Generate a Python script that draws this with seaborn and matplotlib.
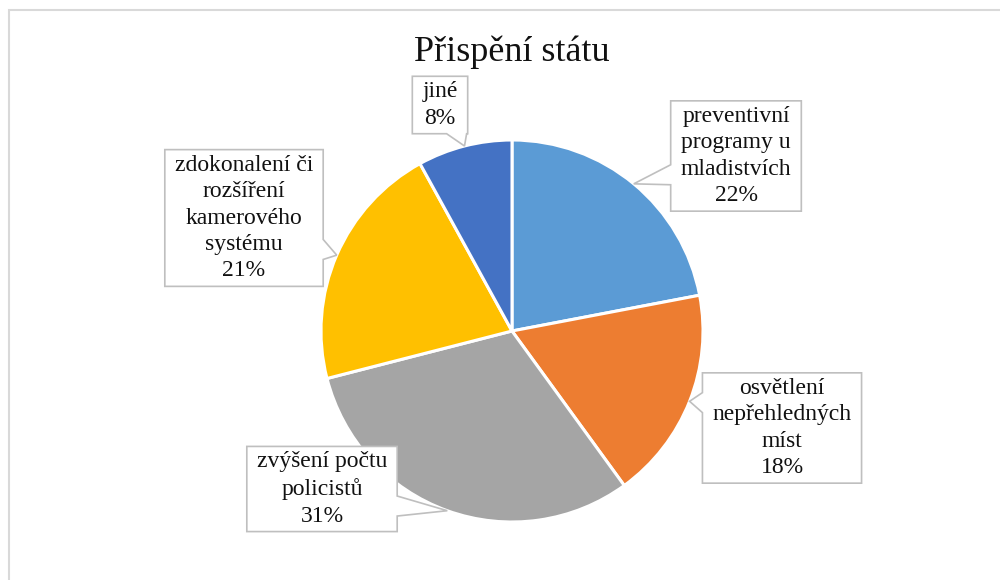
import numpy as np
import matplotlib.pyplot as plt
import seaborn as sns
from matplotlib.patches import Rectangle, Polygon
from matplotlib.transforms import IdentityTransform

# data
kategorie = ["preventivní\nprogramy u\nmladistvích",
             "osvětlení\nnepřehledných\nmíst",
             "zvýšení počtu\npolicistů",
             "zdokonalení či\nrozšíření\nkamerového\nsystému",
             "jiné"]
podily = [22, 18, 31, 21, 8]
barvy = ["#5B9BD5", "#ED7D31", "#A5A5A5", "#FFC000", "#4472C4"]
titulek = "Přispění státu"

# rozložení (pixely na obrázku 1000x580)
stred = (512, 331)
polomer = 191
popisky_px = [(736, 156), (782, 428), (322, 489), (244, 218), (440, 105)]
# strana rámečku, ze které vychází špička, a poloha na ní (0..1)
spicky = [("left", 0.33), ("left", 0.73), ("right", 0.3), ("right", 0.27), ("bottom", 0.8)]

sns.set_theme(style="white")
plt.rcParams["font.family"] = ["Liberation Serif", "DejaVu Serif"]

fig = plt.figure(figsize=(10, 5.8), dpi=100)
ax = fig.add_axes([0, 0, 1, 1])

wedges, _ = ax.pie(podily, colors=barvy, startangle=90, counterclock=False,
                   wedgeprops=dict(edgecolor="white", linewidth=2.2))

ax.set_xlim(-stred[0] / polomer, (1000 - stred[0]) / polomer)
ax.set_ylim(-(580 - stred[1]) / polomer, stred[1] / polomer)
ax.set_aspect("equal", adjustable="datalim")
ax.axis("off")

texty = []
for jmeno, hodnota, (px, py) in zip(kategorie, podily, popisky_px):
    tx = (px - stred[0]) / polomer
    ty = (stred[1] - py) / polomer
    t = ax.text(tx, ty, f"{jmeno}\n{hodnota}%", ha="center", va="center",
                multialignment="center", fontsize=17, linespacing=1.34,
                color="#111111", zorder=5)
    texty.append(t)

fig.canvas.draw()
renderer = fig.canvas.get_renderer()

pad_x, pad_y, pul = 10, 5, 10
for w, t, (strana, f) in zip(wedges, texty, spicky):
    bb = t.get_window_extent(renderer)
    x0, x1 = bb.x0 - pad_x, bb.x1 + pad_x
    y0, y1 = bb.y0 - pad_y, bb.y1 + pad_y
    uhel = np.deg2rad((w.theta1 + w.theta2) / 2)
    hrot = ax.transData.transform((np.cos(uhel), np.sin(uhel)))
    if strana == "left":
        yc = y0 + f * (y1 - y0)
        body = [(x0, y0), (x1, y0), (x1, y1), (x0, y1), (x0, yc + pul), hrot, (x0, yc - pul)]
    elif strana == "right":
        yc = y0 + f * (y1 - y0)
        body = [(x0, y0), (x1, y0), (x1, yc - pul), hrot, (x1, yc + pul), (x1, y1), (x0, y1)]
    else:
        xc = x0 + f * (x1 - x0)
        body = [(x0, y0), (xc - pul, y0), hrot, (xc + pul, y0), (x1, y0), (x1, y1), (x0, y1)]
    ax.add_patch(Polygon(body, closed=True, transform=IdentityTransform(),
                         fc="white", ec="#bfbfbf", lw=1.2, zorder=4))

fig.text(0.512, 1 - 52 / 580, titulek, ha="center", va="center", fontsize=26, color="#111111")

ramecek = Rectangle((9 / 1000, -0.1), 1.2, 1 - 10 / 580 + 0.1, transform=fig.transFigure,
                    fill=False, ec="#d9d9d9", lw=1.5)
fig.patches.append(ramecek)

fig.savefig("out.png", dpi=100)
